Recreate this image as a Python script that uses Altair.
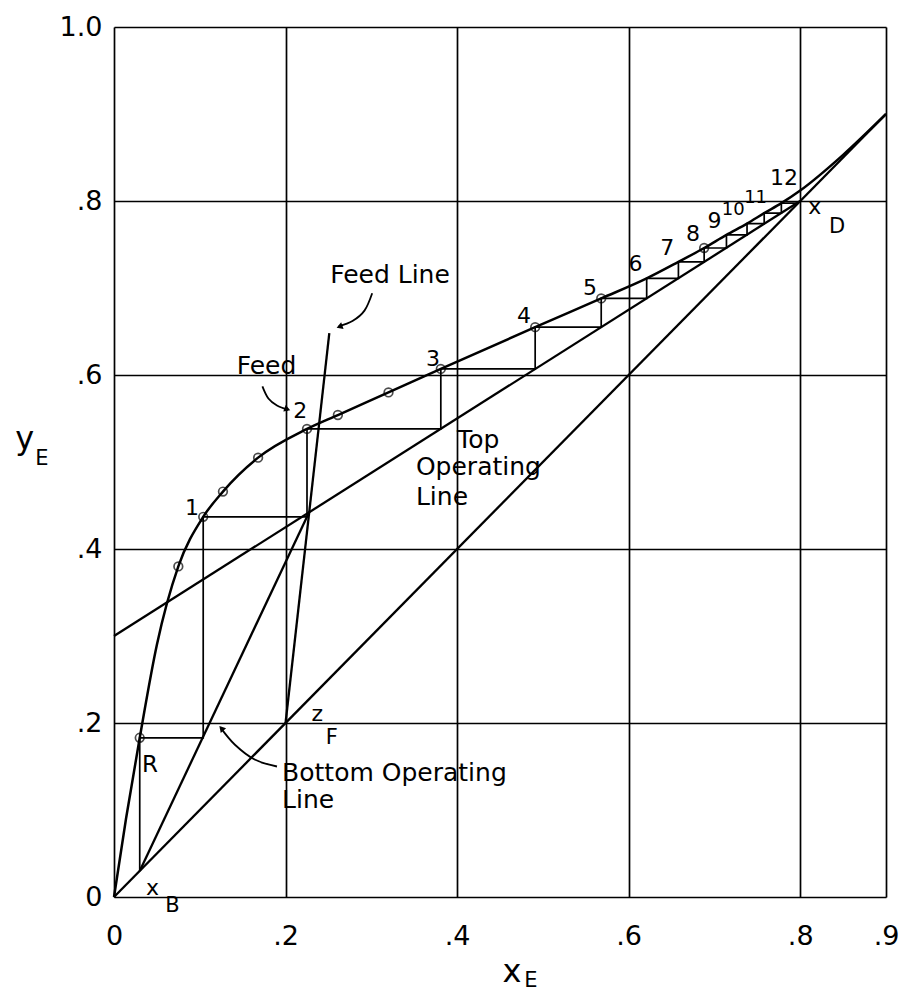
import altair as alt
import pandas as pd

# ---------------- data ----------------
# equilibrium curve (extract composition vs raffinate composition)
eq_x = [0.0, 0.014, 0.03, 0.05, 0.075, 0.104, 0.127, 0.168, 0.225, 0.261, 0.320,
        0.381, 0.491, 0.568, 0.621, 0.658, 0.688, 0.714, 0.738, 0.758, 0.778,
        0.80, 0.85, 0.90]
eq_y = [0.0, 0.09, 0.183, 0.29, 0.38, 0.437, 0.466, 0.505, 0.538, 0.554, 0.580,
        0.607, 0.655, 0.688, 0.711, 0.730, 0.746, 0.761, 0.774, 0.786, 0.7975,
        0.812, 0.853, 0.90]

# data points (open circles)
pt_x = [0.03, 0.075, 0.104, 0.127, 0.168, 0.225, 0.261, 0.320, 0.381, 0.491, 0.568, 0.688]
pt_y = [0.183, 0.38, 0.437, 0.466, 0.505, 0.538, 0.554, 0.580, 0.607, 0.655, 0.688, 0.746]

# straight lines
diag_x = [0.0, 0.9]
diag_y = [0.0, 0.9]
top_op_x = [0.0, 0.8]
top_op_y = [0.30, 0.80]
bot_op_x = [0.03, 0.2275]
bot_op_y = [0.03, 0.4422]
feed_x = [0.20, 0.251]
feed_y = [0.20, 0.648]

# stage stepping
step_x = [0.03, 0.03, 0.104, 0.104, 0.225, 0.225, 0.381, 0.381, 0.491, 0.491,
          0.568, 0.568, 0.621, 0.621, 0.658, 0.658, 0.688, 0.688, 0.714, 0.714,
          0.738, 0.738, 0.758, 0.758, 0.778, 0.778, 0.796]
step_y = [0.03, 0.183, 0.183, 0.437, 0.437, 0.538, 0.538, 0.607, 0.607, 0.655,
          0.655, 0.688, 0.688, 0.711, 0.711, 0.730, 0.730, 0.746, 0.746, 0.761,
          0.761, 0.774, 0.774, 0.786, 0.786, 0.7975, 0.7975]

# stage numbers
stage_text = ["1", "2", "3", "4", "5", "6", "7", "8", "9", "10", "11", "12"]
stage_x = [0.091, 0.217, 0.372, 0.478, 0.555, 0.608, 0.645, 0.675, 0.700, 0.722, 0.748, 0.781]
stage_y = [0.447, 0.559, 0.618, 0.668, 0.700, 0.728, 0.746, 0.762, 0.777, 0.790, 0.804, 0.826]
stage_size = [22, 22, 22, 22, 22, 22, 22, 22, 22, 18, 18, 22]

# word annotations (left aligned)
note_text = ["Feed Line", "Feed", "Top", "Operating", "Line", "Bottom Operating", "Line"]
note_x = [0.252, 0.143, 0.400, 0.352, 0.352, 0.196, 0.196]
note_y = [0.715, 0.610, 0.525, 0.494, 0.460, 0.1425, 0.1115]

# symbol labels with subscripts
sym_text = ["R", "x", "z", "x", "y", "x"]
sym_x = [0.042, 0.045, 0.237, 0.817, -0.104, 0.464]
sym_y = [0.152, 0.010, 0.210, 0.793, 0.527, -0.086]
sym_size = [23, 22, 22, 22, 32, 32]
sub_text = ["B", "F", "D", "E", "E"]
sub_x = [0.068, 0.254, 0.843, -0.084, 0.486]
sub_y = [-0.010, 0.183, 0.770, 0.503, -0.097]

# annotation leader curves
arr1_x = [0.301, 0.292, 0.278, 0.262]
arr1_y = [0.694, 0.674, 0.662, 0.656]
arr2_x = [0.173, 0.180, 0.190, 0.203]
arr2_y = [0.587, 0.573, 0.565, 0.560]
arr3_x = [0.124, 0.141, 0.164, 0.190]
arr3_y = [0.195, 0.175, 0.158, 0.150]
head_x = [0.264, 0.201, 0.126]
head_y = [0.656, 0.561, 0.193]
head_angle = [250, 110, 319]

x_ticks = [0, 0.2, 0.4, 0.6, 0.8, 0.9]
y_ticks = [0, 0.2, 0.4, 0.6, 0.8, 1.0]

# ---------------- build chart ----------------
FONT = "DejaVu Sans"
xs = alt.Scale(domain=[0, 0.9], nice=False, zero=False)
ys = alt.Scale(domain=[0, 1.0], nice=False, zero=False)
lab = "datum.value == 0 ? '0' : replace(format(datum.value, '.1f'), '0.', '.')"
x_axis = alt.Axis(values=x_ticks, grid=True, ticks=False, domain=False, title=None,
                  labelExpr=lab, labelFontSize=27, labelFont=FONT, labelColor="black",
                  labelPadding=26, labelFlush=False, labelOverlap=False,
                  gridColor="black", gridWidth=1.7, gridOpacity=1)
y_axis = alt.Axis(values=y_ticks, grid=True, ticks=False, domain=False, title=None,
                  labelExpr=lab, labelFontSize=27, labelFont=FONT, labelColor="black",
                  labelPadding=12, labelFlush=False, labelOverlap=False,
                  gridColor="black", gridWidth=1.7, gridOpacity=1)


def X():
    return alt.X("x:Q", scale=xs, axis=x_axis)


def Y():
    return alt.Y("y:Q", scale=ys, axis=y_axis)


def seg(xv, yv, name):
    return pd.DataFrame({"x": xv, "y": yv, "s": name, "o": list(range(len(xv)))})


eq_df = seg(eq_x, eq_y, "eq")
lines_df = pd.concat([seg(diag_x, diag_y, "diag"), seg(top_op_x, top_op_y, "top"),
                      seg(bot_op_x, bot_op_y, "bot"), seg(feed_x, feed_y, "feed")])
steps_df = seg(step_x, step_y, "steps")
arr_df = pd.concat([seg(arr1_x, arr1_y, "a1"), seg(arr2_x, arr2_y, "a2"),
                    seg(arr3_x, arr3_y, "a3")])

eq_layer = alt.Chart(eq_df).mark_line(color="black", strokeWidth=2.5,
                                      interpolate="monotone").encode(
    x=X(), y=Y(), order="o:Q")
lines_layer = alt.Chart(lines_df).mark_line(color="black", strokeWidth=2.3).encode(
    x=X(), y=Y(), detail="s:N", order="o:Q")
steps_layer = alt.Chart(steps_df).mark_line(color="black", strokeWidth=1.7).encode(
    x=X(), y=Y(), order="o:Q")
pts_layer = alt.Chart(pd.DataFrame({"x": pt_x, "y": pt_y})).mark_point(
    shape="circle", filled=False, color="black", size=75, strokeWidth=1.7).encode(
    x=X(), y=Y())
arr_layer = alt.Chart(arr_df).mark_line(color="black", strokeWidth=1.8,
                                        interpolate="cardinal").encode(
    x=X(), y=Y(), detail="s:N", order="o:Q")
head_layer = alt.Chart(pd.DataFrame({"x": head_x, "y": head_y, "a": head_angle})).mark_point(
    shape="triangle", filled=True, color="black", size=50, opacity=1).encode(
    x=X(), y=Y(), angle=alt.Angle("a:Q", scale=None))

stage_layer = alt.Chart(pd.DataFrame({"x": stage_x, "y": stage_y, "t": stage_text,
                                      "f": stage_size})).mark_text(
    font=FONT, color="black", align="center", baseline="middle").encode(
    x=X(), y=Y(), text="t:N", size=alt.Size("f:Q", scale=None))
note_layer = alt.Chart(pd.DataFrame({"x": note_x, "y": note_y, "t": note_text})).mark_text(
    font=FONT, fontSize=25, color="black", align="left", baseline="middle").encode(
    x=X(), y=Y(), text="t:N")
sym_layer = alt.Chart(pd.DataFrame({"x": sym_x, "y": sym_y, "t": sym_text, "f": sym_size})).mark_text(
    font=FONT, color="black", align="center", baseline="middle").encode(
    x=X(), y=Y(), text="t:N", size=alt.Size("f:Q", scale=None))
sub_layer = alt.Chart(pd.DataFrame({"x": sub_x, "y": sub_y, "t": sub_text})).mark_text(
    font=FONT, fontSize=21, color="black", align="center", baseline="middle").encode(
    x=X(), y=Y(), text="t:N")

chart = alt.layer(
    eq_layer, lines_layer, steps_layer, pts_layer, arr_layer, head_layer,
    stage_layer, note_layer, sym_layer, sub_layer
).properties(
    width=772, height=870,
    autosize=alt.AutoSizeParams(type="none"),
    padding={"left": 106, "top": 19, "right": 18, "bottom": 97},
).configure_view(stroke="black", strokeWidth=2.5).configure(background="white")

chart.save("out.html", embed_options={"renderer": "svg", "actions": False})
